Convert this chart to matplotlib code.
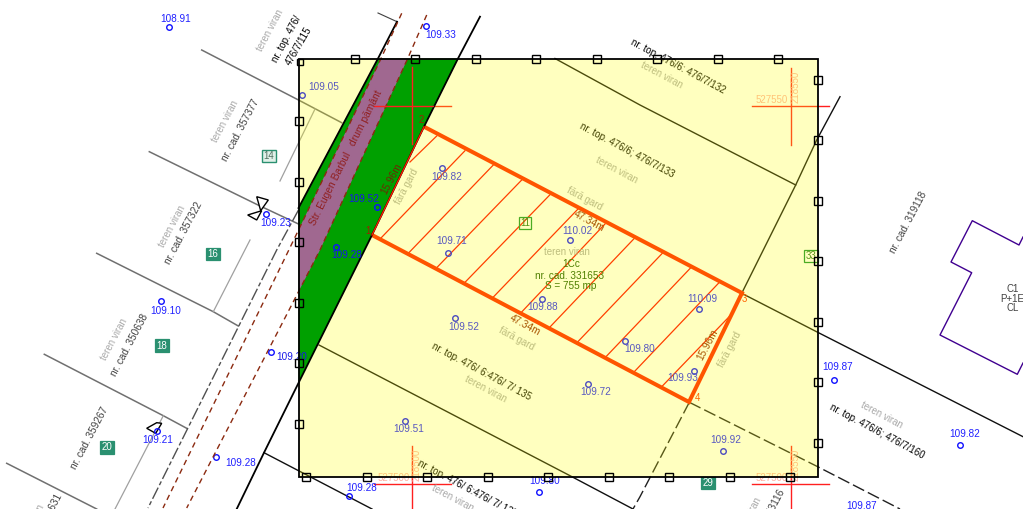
import matplotlib
matplotlib.use("Agg")
import matplotlib.pyplot as plt
from matplotlib.patches import Polygon, Rectangle

plt.rcParams['font.family'] = ['Liberation Sans', 'DejaVu Sans']

# frame of the plot
frame = (298.5, 58.5, 818, 476.5)

# heights: marker x, marker y, label x, label y, value
heights = [
    (169, 27, 175.5, 18.5, '108.91'), (425.7, 26, 441, 34.5, '109.33'),
    (302, 95, 324, 86.5, '109.05'), (265.7, 214, 276, 222.5, '109.23'),
    (442, 168, 447, 176.5, '109.82'),
    (447.7, 252.7, 452, 241.5, '109.71'), (570, 240.3, 577, 231.5, '110.02'),
    (541.7, 299.3, 542.7, 307.5, '109.88'), (455, 318, 464, 327.5, '109.52'),
    (624.7, 340.7, 640, 348.5, '109.80'), (698.7, 309.3, 702.3, 299.3, '110.09'),
    (694, 371.3, 683, 378.3, '109.93'), (588.3, 383.7, 595.7, 392.3, '109.72'),
    (404.7, 421.3, 408.7, 429.3, '109.51'), (722.7, 450.7, 725.7, 440, '109.92'),
    (833.7, 380, 838, 367.3, '109.87'), (960.3, 444.7, 965, 434.3, '109.82'),
    (161.3, 301, 166, 311.3, '109.10'),
    (156.7, 430.7, 157.7, 440.3, '109.21'), (215.7, 456.7, 241, 463.3, '109.28'),
    (349.3, 496.3, 361.7, 487.7, '109.28'), (538.7, 491.7, 544.7, 480.7, '109.80'),
    (862, 514, 862, 506, '109.87'),
]
heights_on_road = [
    (376.7, 206.5, 364, 198.5, '109.52'), (335.5, 246.5, 347, 255, '109.28'),
    (270.7, 352, 292, 357.3, '109.20'),
]

# tie marks on the frame
ticks_top = [355, 415, 475.7, 536, 597, 657.3, 717.7, 778]
ticks_left = [121, 181.7, 242, 302.7, 363, 423.7]
ticks_right = [80, 140.3, 201, 261.3, 321.7, 382.3, 443]
ticks_bottom = [306, 366.7, 427, 487.7, 548.3, 608.7, 669.3, 730, 790.3]

# road
green_area = [(378, 58.5), (458, 58.5), (424, 126.7), (372, 235), (298.5, 383), (298.5, 208)]
purple_area = [(381, 58.5), (407.7, 58.5), (320, 250), (298.5, 291.7), (298.5, 230)]
road_edge_right = [(480, 16.7), (458, 58.5), (424, 126.7), (372, 235), (298.5, 383), (264, 452.7), (236.7, 509)]
road_edge_left = [(397, 21.7), (378, 58.5), (298.5, 208)]
road_tick = [(378, 13), (397, 21.7)]
axis_dash_1 = [(401.7, 13.3), (381, 58.5), (298.5, 230), (288, 251.7), (163, 508)]
axis_dash_2 = [(426.7, 15), (407.7, 58.5), (320, 250), (298.5, 291.7), (186.7, 508)]
fence_dash = [(298.5, 210), (276.7, 250), (148, 508)]

# parcel limits
gray_lines = [
    [(201.7, 50), (298.5, 100), (341.7, 122.7)],
    [(149.3, 151.7), (258, 205), (298.5, 224)],
    [(96.7, 253.3), (213.3, 311.7), (238.3, 326)],
    [(44.3, 354.3), (163.3, 415.7), (186.7, 428.3)],
    [(6.7, 463.3), (96.7, 509)],
]
light_lines = [
    [(315, 109), (280, 181)],
    [(250, 240), (213.3, 311.7)],
    [(163.3, 415.7), (115, 509)],
]
black_lines = [
    [(555, 58.5), (640, 105), (795.7, 185)],
    [(319, 345), (570, 475.7), (633, 509)],
    [(264, 452.7), (372, 509)],
    [(840, 96.7), (816.7, 140), (795.7, 185), (741.7, 293.3)],
    [(741.7, 293.3), (817.7, 332.3), (1023, 436.7)],
]
dashed_lines = [
    [(689.3, 402.3), (640, 496.7), (633, 509)],
    [(689.3, 402.3), (817.7, 466.7), (900, 509)],
]

# studied parcel
corner_1, corner_2, corner_3, corner_4 = (372, 235), (424, 126.7), (742, 293), (689, 402)
hatch_low = [(410, 162), (380.7, 238.3), (408.3, 253.3), (436.7, 267.7), (465, 282.3), (492.7, 297.7),
             (521, 312.7), (549.3, 327.7), (577.3, 342.3), (605.7, 357), (634, 372), (661.7, 386.7)]
hatch_high = [(436.7, 136), (465, 150.7), (493.3, 165), (521.7, 180), (550, 194.7), (578, 209),
              (605, 224), (634, 238.7), (662.3, 253.3), (690.5, 268), (719, 282.7), (732.7, 313)]

building = [(1023, 237), (1019, 245), (972.3, 220.7), (951, 262), (971.7, 272.7),
            (940, 335), (1017.3, 374.3), (1023, 363)]

# grid crosses: x, y, easting, northing
crosses = [(412.3, 105.7, '527550', '218500'), (790.7, 106, '527550', '218550'),
           (412.3, 484, '527500', '218500'), (790.7, 484, '527500', '218550')]

# boxed numbers
boxes_filled = [('16', 212.7, 254), ('18', 161.7, 345.7), ('20', 106.7, 447.5), ('29', 708, 483)]
boxes_light = [('14', 268.7, 156)]
boxes_open = [('11', 525, 223), ('33', 811, 256)]

# text, x, y, rotation
dark_labels = [
    ('nr. top. 476/', 286.7, 39, 62), ('476/7/115', 299, 45.7, 60),
    ('nr. top. 476/6: 476/7/132', 678, 66, -28), ('nr. top. 476/6; 476/7/133', 626.7, 150.7, -28),
    ('nr. top. 476/ 6:476/ 7/ 135', 481.7, 371.7, -28), ('nr. top. 476/ 6:476/ 7/ 135', 467, 489, -28),
    ('nr. top. 476/6; 476/7/160', 876.7, 431.7, -28),
]
cad_labels = [
    ('nr. cad. 357377', 240, 130, 62), ('nr. cad. 357322', 184, 233, 62),
    ('nr. cad. 350638', 130, 345, 62), ('nr. cad. 359267', 90, 438.3, 62),
    ('nr. cad. 351631', 44, 525, 62), ('nr. cad. 319118', 908.3, 222.7, 62),
    ('nr. cad. 353116', 766, 520, 62),
]
viran_labels = [
    ('teren viran', 270, 30, 62), ('teren viran', 225, 121.7, 62), ('teren viran', 172, 226, 62),
    ('teren viran', 114, 339, 62), ('teren viran', 31, 525, 62), ('teren viran', 748, 518, 62),
    ('teren viran', 661.7, 75, -28), ('teren viran', 616.7, 170, -28), ('teren viran', 566.7, 252.3, 0),
    ('teren viran', 486, 389.3, -28), ('teren viran', 453, 498, -28), ('teren viran', 881.7, 415, -28),
]
gard_labels = [
    ('fără gard', 585, 198.3, -28), ('fără gard', 406.7, 186.7, 62),
    ('fără gard', 516.7, 338.3, -28), ('fără gard', 730, 349.3, 62),
]
length_labels = [
    ('47.34m', 589.3, 221.7, -28), ('47.34m', 525, 325, -28), ('15.96m', 707.7, 344.3, 62),
]
parcel_lines = [('1Cc', 571, 264), ('nr. cad. 331653', 569.3, 275.7), ('S = 755 mp', 571, 286.3)]
building_lines = [('C1', 1012.7, 289), ('P+1E', 1012, 299), ('CL', 1013, 308)]
corner_labels = [('3', 744.3, 299.3), ('4', 697.3, 398.3)]
corner_labels_road = [('1', 367.7, 230.7), ('2', 421.7, 120)]


def poly(points, **kw):
    ax.plot([p[0] for p in points], [p[1] for p in points], **kw)


def label(items, **kw):
    for t, x, y, r in items:
        ax.text(x, y, t, rotation=r, rotation_mode='anchor', ha='center', va='center', **kw)


fig = plt.figure(figsize=(10.23, 5.09), dpi=100)
ax = fig.add_axes([0, 0, 1, 1])
ax.set_xlim(0, 1023)
ax.set_ylim(509, 0)
ax.axis('off')

# bottom layer, it is seen through the yellow
for ln in gray_lines:
    poly(ln, color='#707070', lw=1.1, zorder=1)
for ln in light_lines:
    poly(ln, color='#a0a0a0', lw=0.9, zorder=1)
for ln in black_lines:
    poly(ln, color='#101010', lw=1, zorder=1)
for ln in dashed_lines:
    poly(ln, color='#202020', lw=1, ls=(0, (9, 3)), zorder=1)
poly(fence_dash, color='#505050', lw=1, ls=(0, (9, 2, 3, 2)), zorder=1)
poly(road_edge_right, color='black', lw=1.3, zorder=6)
poly(road_edge_left, color='black', lw=1.3, zorder=6)
poly(road_tick, color='#404040', lw=0.8, zorder=1)
poly(axis_dash_1, color='#8b2a10', lw=1, ls=(0, (4, 3)), zorder=6)
poly(axis_dash_2, color='#8b2a10', lw=1, ls=(0, (4, 3)), zorder=6)
poly(building, color='#400090', lw=1, zorder=1)

# parcel
for lo, hi in zip(hatch_low, hatch_high):
    poly([lo, hi], color='red', lw=0.9, zorder=2)
poly([corner_2, corner_3, corner_4, corner_1], color='#ff1c00', lw=2.9, zorder=2, solid_joinstyle='miter')
poly([corner_1, corner_2], color='#ff1c00', lw=1, zorder=6)

# crosses
x0, y0, x1, y1 = frame
road_patch = Polygon(green_area, transform=ax.transData)
for cx, cy, east, north in crosses:
    for clip in (False, True):
        z = 6 if clip else 2
        a = ax.plot([cx - 38.5, cx + 38.5], [cy, cy], color='#ff2020', lw=1, zorder=z)
        b = ax.plot([cx, cx], [cy - 38.5, min(cy + 38.5, 509)], color='#ff2020', lw=1, zorder=z)
        if clip:
            a[0].set_clip_path(road_patch)
            b[0].set_clip_path(road_patch)
    ax.text(cx - 19, cy - 6, east, color='#ffb0a0', fontsize=7, ha='center', va='center', zorder=2)
    ax.text(cx + 4.5, cy - 19, north, color='#ffb0a0', fontsize=7, rotation=90, ha='center', va='center', zorder=2)

# texts below the yellow
for mx, my, lx, ly, val in heights:
    ax.plot(mx, my, 'o', ms=4, mfc='none', mec='#1010ff', mew=1, zorder=2, clip_on=True)
    ax.text(lx, ly, val, color='#2020ff', fontsize=7.2, ha='center', va='center', zorder=2)
label(dark_labels, color='black', fontsize=7, zorder=2)
label(cad_labels, color='#404040', fontsize=7.2, zorder=2)
label(viran_labels, color='#a8a8a8', fontsize=7, zorder=2)
label(gard_labels, color='#a8a8a8', fontsize=7, zorder=2)
label(length_labels, color='#8b1a00', fontsize=7.2, zorder=2)
for t, x, y in parcel_lines:
    ax.text(x, y, t, color='#155500', fontsize=7.2, ha='center', va='center', zorder=2)
for t, x, y in building_lines:
    ax.text(x, y, t, color='#404040', fontsize=7, ha='center', va='center', zorder=2)
for t, x, y in corner_labels:
    ax.text(x, y, t, color='#ff3000', fontsize=7, ha='center', va='center', zorder=2)
for t, x, y in boxes_open:
    ax.text(x, y, t, color='#207020', fontsize=7, ha='center', va='center', zorder=2,
            bbox=dict(boxstyle='square,pad=0.15', fc='none', ec='#109030', lw=0.9))
for t, x, y in boxes_filled:
    ax.text(x, y, t, color='white', fontsize=7, ha='center', va='center', zorder=2,
            bbox=dict(boxstyle='square,pad=0.15', fc='#2a9070', ec='#2a9070', lw=0.9))
for t, x, y in boxes_light:
    ax.text(x, y, t, color='#507060', fontsize=7, ha='center', va='center', zorder=2,
            bbox=dict(boxstyle='square,pad=0.15', fc='#e0f0e8', ec='#2a9070', lw=1))

# symbols
ax.add_patch(Polygon([(256.7, 196.7), (268.3, 200), (260.7, 210.7)], fc='white', ec='black', lw=1, zorder=2))
ax.add_patch(Polygon([(247.7, 215), (256.7, 220), (261.7, 210.7)], fc='white', ec='black', lw=1, zorder=2))
ax.add_patch(Polygon([(146.7, 428.3), (156.7, 422.7), (161.7, 423.3), (155.7, 433.3)], fc='white', ec='black', lw=1, zorder=1))

# yellow on top of all that
ax.add_patch(Rectangle((x0, y0), x1 - x0, y1 - y0, fc=(1, 1, 0, 0.25), ec='none', zorder=3))
ax.add_patch(Polygon(green_area, fc='#00a000', ec='none', zorder=4))
ax.add_patch(Polygon(purple_area, fc='#a06890', ec='none', zorder=5))

# above the fills
ax.text(346, 158.3, 'Str. Eugen Barbul   drum pământ', color='#902020', fontsize=7.4, rotation=63.4,
        rotation_mode='anchor', ha='center', va='center', zorder=7)
ax.text(391.7, 178.3, '15.96m', color='#6b2a00', fontsize=7.2, rotation=62,
        rotation_mode='anchor', ha='center', va='center', zorder=7)
for mx, my, lx, ly, val in heights_on_road:
    ax.plot(mx, my, 'o', ms=4, mfc='none', mec='#1010ff', mew=1, zorder=7)
    ax.text(lx, ly, val, color='#1818e8', fontsize=7.2, ha='center', va='center', zorder=7)
for t, x, y in corner_labels_road:
    ax.text(x, y, t, color='#a02000', fontsize=7, ha='center', va='center', zorder=7)

ax.add_patch(Rectangle((x0, y0), x1 - x0, y1 - y0, fc='none', ec='black', lw=1.3, zorder=8))
sq = dict(marker='s', ms=6.4, mfc='none', mec='black', mew=1, ls='none', zorder=9)
ax.plot(ticks_top, [y0] * len(ticks_top), **sq)
ax.plot([x0] * len(ticks_left), ticks_left, **sq)
ax.plot([x1] * len(ticks_right), ticks_right, **sq)
ax.plot(ticks_bottom, [y1] * len(ticks_bottom), **sq)
ax.plot([299.5], [61.5], marker='s', ms=4, mfc='none', mec='black', mew=1, zorder=9)

fig.savefig('out.png', dpi=100)
